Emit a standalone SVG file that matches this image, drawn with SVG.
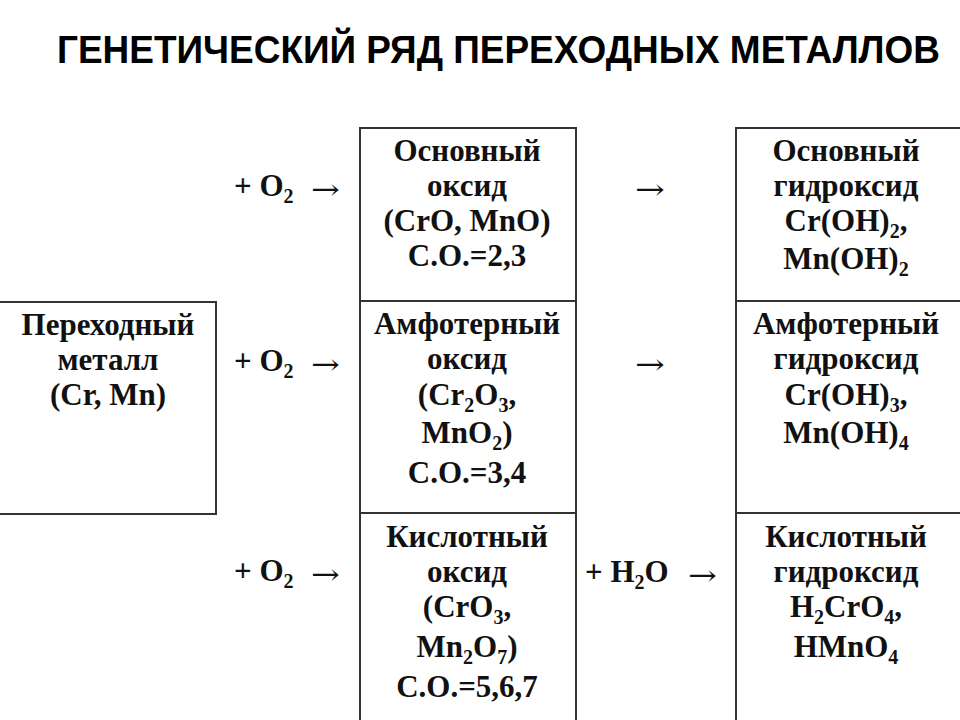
<svg xmlns="http://www.w3.org/2000/svg" width="960" height="720" viewBox="0 0 960 720">
<style>
.t{font-family:"Liberation Sans","Liberation Serif","Times New Roman",serif;font-weight:bold;font-size:31px;fill:#111;text-anchor:middle}
.t{font-family:"Liberation Serif","Times New Roman",serif}
.l{text-anchor:start}
.s{font-size:20px}
.ttl{font-family:"Liberation Sans",Arial,sans-serif;font-weight:bold;font-size:36px;fill:#000}
.box{fill:none;stroke:#333;stroke-width:2}
.ar{font-family:"DejaVu Serif","DejaVu Sans",serif;font-weight:normal;font-size:28px;fill:#111}
</style>
<rect width="960" height="720" fill="#fff"/>
<text class="ttl" x="57" y="0" transform="translate(0,63) scale(1,1.06)" textLength="883" lengthAdjust="spacingAndGlyphs">ГЕНЕТИЧЕСКИЙ РЯД ПЕРЕХОДНЫХ МЕТАЛЛОВ</text>

<g id="metal">
<rect class="box" x="-1" y="302" width="217" height="212"/>
<text class="t" x="108" y="335">Переходный</text>
<text class="t" x="108" y="370">металл</text>
<text class="t" x="108" y="405">(Cr, Mn)</text>
</g>

<g id="oxides-frame">
<path class="box" d="M360 730V128H576V730M360 301H576M360 513H576"/>
</g>
<g id="basic-oxide">
<text class="t" x="467" y="161">Основный</text>
<text class="t" x="467" y="196">оксид</text>
<text class="t" x="467" y="231">(CrO, MnO)</text>
<text class="t" x="467" y="266">С.О.=2,3</text>
</g>
<g id="amph-oxide">
<text class="t" x="467" y="334">Амфотерный</text>
<text class="t" x="467" y="369">оксид</text>
<text class="t" x="467" y="405">(Cr<tspan class="s" dy="7">2</tspan><tspan dy="-7">O</tspan><tspan class="s" dy="7">3</tspan><tspan dy="-7">,</tspan></text>
<text class="t" x="467" y="443">MnO<tspan class="s" dy="7">2</tspan><tspan dy="-7">)</tspan></text>
<text class="t" x="467" y="483">С.О.=3,4</text>
</g>
<g id="acid-oxide">
<text class="t" x="467" y="547">Кислотный</text>
<text class="t" x="467" y="582">оксид</text>
<text class="t" x="467" y="617">(CrO<tspan class="s" dy="7">3</tspan><tspan dy="-7">,</tspan></text>
<text class="t" x="467" y="657">Mn<tspan class="s" dy="7">2</tspan><tspan dy="-7">O</tspan><tspan class="s" dy="7">7</tspan><tspan dy="-7">)</tspan></text>
<text class="t" x="467" y="697">С.О.=5,6,7</text>
</g>

<g id="hydroxides-frame">
<path class="box" d="M736 730V128H970M736 301H970M736 513H970"/>
</g>
<g id="basic-hydroxide">
<text class="t" x="846" y="161">Основный</text>
<text class="t" x="846" y="196">гидроксид</text>
<text class="t" x="846" y="231">Cr(OH)<tspan class="s" dy="7">2</tspan><tspan dy="-7">,</tspan></text>
<text class="t" x="846" y="269">Mn(OH)<tspan class="s" dy="7">2</tspan></text>
</g>
<g id="amph-hydroxide">
<text class="t" x="846" y="334">Амфотерный</text>
<text class="t" x="846" y="369">гидроксид</text>
<text class="t" x="846" y="405">Cr(OH)<tspan class="s" dy="7">3</tspan><tspan dy="-7">,</tspan></text>
<text class="t" x="846" y="443">Mn(OH)<tspan class="s" dy="7">4</tspan></text>
</g>
<g id="acid-hydroxide">
<text class="t" x="846" y="547">Кислотный</text>
<text class="t" x="846" y="582">гидроксид</text>
<text class="t" x="846" y="617">H<tspan class="s" dy="7">2</tspan><tspan dy="-7">CrO</tspan><tspan class="s" dy="7">4</tspan><tspan dy="-7">,</tspan></text>
<text class="t" x="846" y="657">HMnO<tspan class="s" dy="7">4</tspan></text>
</g>

<g id="connectors">
<text class="t l" x="234" y="196">+ O<tspan class="s" dy="7">2</tspan></text>
<text class="ar" x="311" y="199" textLength="29" lengthAdjust="spacingAndGlyphs">→</text>
<text class="t l" x="234" y="371">+ O<tspan class="s" dy="7">2</tspan></text>
<text class="ar" x="311" y="374" textLength="29" lengthAdjust="spacingAndGlyphs">→</text>
<text class="t l" x="234" y="581">+ O<tspan class="s" dy="7">2</tspan></text>
<text class="ar" x="311" y="584" textLength="29" lengthAdjust="spacingAndGlyphs">→</text>
<text class="ar" x="635" y="199" textLength="30" lengthAdjust="spacingAndGlyphs">→</text>
<text class="ar" x="635" y="374" textLength="30" lengthAdjust="spacingAndGlyphs">→</text>
<text class="t l" x="585" y="582">+ H<tspan class="s" dy="7">2</tspan><tspan dy="-7">O</tspan></text>
<text class="ar" x="688" y="585" textLength="29" lengthAdjust="spacingAndGlyphs">→</text>
</g>
</svg>
